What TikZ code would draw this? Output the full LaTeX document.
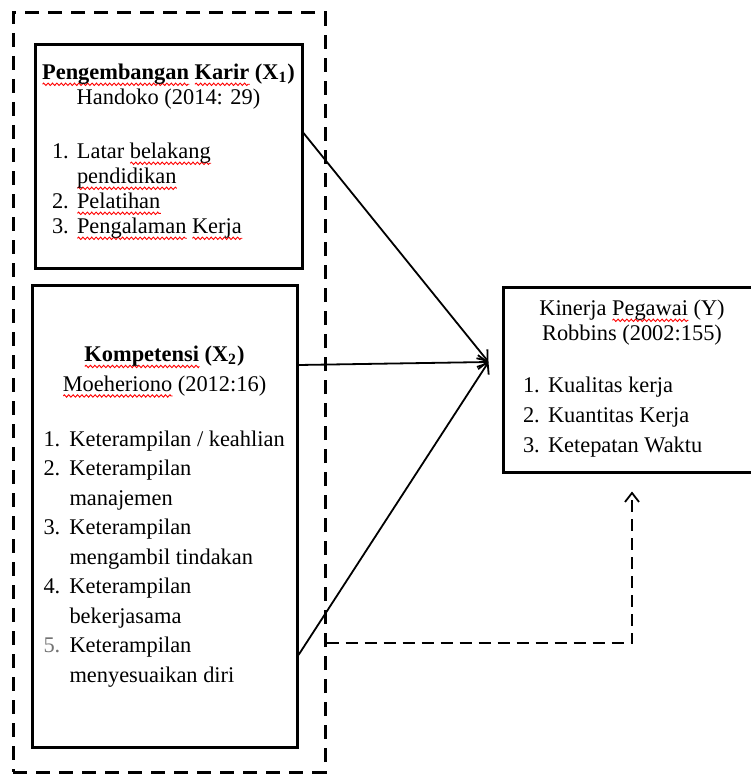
\documentclass[tikz,border=0pt]{standalone}
\usepackage{fontspec}
\setmainfont{Liberation Serif}
\usetikzlibrary{arrows.meta,decorations.pathmorphing}

% red spell-check wave under a word
\newlength\spellwd
\newcommand\spell[1]{\settowidth\spellwd{#1}\rlap{\tikz[baseline=0pt,x=1pt,y=1pt]
  \draw[red,line width=0.45pt,decorate,decoration={zigzag,amplitude=0.6pt,segment length=2.2pt}]
  (0pt,-2.4pt) -- (\spellwd,-2.4pt);}#1}

\begin{document}
\begin{tikzpicture}
[x=0.5pt,y=-0.5pt,
>={Straight Barb[length=4.5pt,width=7pt]},
varbox/.style={draw,line width=1.5pt,inner sep=0pt},
group/.style={draw,line width=1.5pt,dash pattern=on 7pt off 4.5pt,inner sep=0pt},
link/.style={->,line width=0.9pt},
feedback/.style={->,line width=0.9pt,dash pattern=on 6pt off 3.5pt}]
\useasboundingbox (0,0) rectangle (750,775);

\node[group,minimum width=156pt,minimum height=379.5pt] at (169,392.5) (grp) {};

\node[varbox,minimum width=133.5pt,minimum height=111.5pt,font=\fontsize{11.2}{12.5}\selectfont]
  at (168.5,156.5) (karir) {%
  \begin{tabular}{@{}p{12.5pt}@{}l@{}}
  \multicolumn{2}{@{}c@{}}{\makebox[116.5pt]{\textbf{\spell{Pengembangan} \spell{Karir} (X\textsubscript{1})}}}\\
  \multicolumn{2}{@{}c@{}}{Handoko (2014: 29)}\\[14.5pt]
  1. & Latar \spell{belakang}\\
     & \spell{pendidikan}\\
  2. & \spell{Pelatihan}\\
  3. & \spell{Pengalaman} \spell{Kerja}\\[5pt]
  \end{tabular}};

\node[varbox,minimum width=132.5pt,minimum height=231pt,font=\fontsize{11.2}{14.75}\selectfont]
  at (164.5,516) (komp) {%
  \begin{tabular}{@{}p{13pt}@{}l@{}}
  \multicolumn{2}{@{}c@{}}{\makebox[121pt]{\textbf{\spell{Kompetensi} (X\textsubscript{2})}}}\\
  \multicolumn{2}{@{}c@{}}{\spell{Moeheriono} (2012:16)}\\[12.75pt]
  1. & Keterampilan / keahlian\\
  2. & Keterampilan\\
     & manajemen\\
  3. & Keterampilan\\
     & mengambil tindakan\\
  4. & Keterampilan\\
     & bekerjasama\\
  \textcolor{black!55}{5.} & Keterampilan\\
     & menyesuaikan diri
  \end{tabular}};

\node[varbox,minimum width=129pt,minimum height=92.5pt,font=\fontsize{11.2}{15}\selectfont]
  at (632,379.5) (kinerja) {%
  \begin{tabular}{@{}p{12.5pt}@{}l@{}}
  \multicolumn{2}{@{}c@{}}{\makebox[109pt]{Kinerja \spell{Pegawai} (Y)}}\\[-2.5pt]
  \multicolumn{2}{@{}c@{}}{Robbins (2002:155)}\\[11pt]
  1. & Kualitas kerja\\
  2. & Kuantitas Kerja\\
  3. & Ketepatan Waktu\\[1.5pt]
  \end{tabular}};

\coordinate (meet) at ([xshift=-6.5pt,yshift=8.75pt]kinerja.west);
\coordinate (back) at ([yshift=-9pt]kinerja.south);

\draw [link] ([yshift=11.75pt]karir.east) -- (meet);
\draw [link] ([yshift=75.5pt]komp.east) -- (meet);
\draw [link] ([yshift=-69.5pt]komp.east) -- (meet);
\draw [feedback] ([yshift=-125.25pt]grp.east) -| (back);
\end{tikzpicture}
\end{document}
